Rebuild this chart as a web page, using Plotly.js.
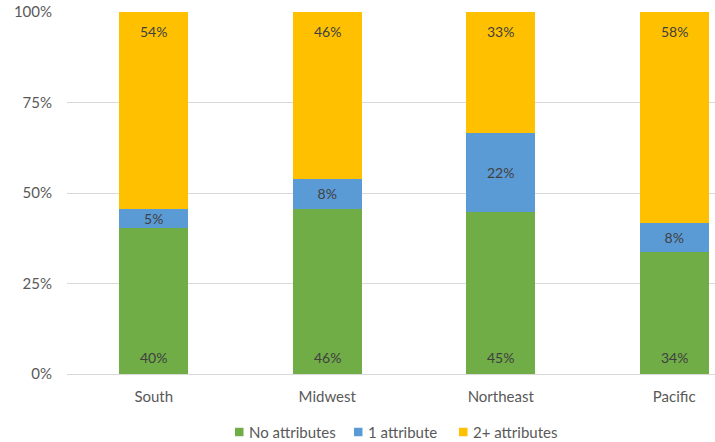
<!DOCTYPE html>
<html>
<head>
<meta charset="utf-8">
<script src="https://cdn.plot.ly/plotly-3.0.1.min.js"></script>
<style>
  html, body { margin: 0; padding: 0; background: #fff; }
  #chart { width: 715px; height: 442px; }
</style>
</head>
<body>
<div id="chart"></div>
<script>
// Share of respondents by number of attributes, per region (percent)
const regions = ["South", "Midwest", "Northeast", "Pacific"];
const noAttributes = [40.4, 45.7, 44.8, 33.6];
const oneAttribute = [5.2, 8.3, 21.8, 8.2];
const twoPlusAttributes = [54.4, 46.0, 33.4, 58.2];
const seriesNames = ["No attributes", "1 attribute", "2+ attributes"];
const seriesColors = ["#70AD47", "#5B9BD5", "#FFC000"];
const yTickValues = [0, 25, 50, 75, 100];

const font = "Lato, 'Open Sans', sans-serif";
const labelFont = { family: font, size: 14, color: "#404040" };
const axisFont = { family: font, size: 15, color: "#595959" };
const xs = regions.map((_, i) => i);
const pct = v => Math.round(v) + "%";

function series(name, values, color, withText) {
  const t = {
    type: "bar",
    name: name,
    x: xs,
    y: values,
    width: 0.398,
    marker: { color: color, line: { width: 0 } },
    hoverinfo: "skip",
    showlegend: false
  };
  if (withText) {
    t.text = values.map(pct);
    t.textposition = "inside";
    t.insidetextanchor = "middle";
    t.constraintext = "none";
    t.textangle = 0;
    t.insidetextfont = labelFont;
  } else {
    t.textposition = "none";
  }
  return t;
}

const data = [
  series(seriesNames[0], noAttributes, seriesColors[0], false),
  series(seriesNames[1], oneAttribute, seriesColors[1], true),
  series(seriesNames[2], twoPlusAttributes, seriesColors[2], false)
];

// Value labels pinned near the base and the top of each stack
const annotations = [];
xs.forEach(i => {
  annotations.push({
    x: i, y: 0, xref: "x", yref: "y",
    text: pct(noAttributes[i]), showarrow: false,
    yanchor: "middle", yshift: 17, font: labelFont
  });
  const top = noAttributes[i] + oneAttribute[i] + twoPlusAttributes[i];
  annotations.push({
    x: i, y: top, xref: "x", yref: "y",
    text: pct(twoPlusAttributes[i]), showarrow: false,
    yanchor: "middle", yshift: -19, font: labelFont
  });
});

// Legend row below the plot: small square swatch followed by its name
const plotLeft = 67, plotWidth = 648, plotBottom = 374, plotHeight = 362;
const px = v => (v - plotLeft) / plotWidth;
const legendY = (plotBottom - 432) / plotHeight;
const swatchLeft = [235, 354, 459];
const shapes = [];
seriesNames.forEach((name, k) => {
  shapes.push({
    type: "rect", xref: "paper", yref: "paper",
    x0: px(swatchLeft[k]), x1: px(swatchLeft[k] + 8.5),
    y0: legendY - 4.25 / plotHeight, y1: legendY + 4.25 / plotHeight,
    fillcolor: seriesColors[k], line: { width: 0 }
  });
  annotations.push({
    x: px(swatchLeft[k] + 12), y: legendY, xref: "paper", yref: "paper",
    text: name, showarrow: false, xanchor: "left", yanchor: "middle",
    font: axisFont
  });
});

const layout = {
  width: 715,
  height: 442,
  margin: { l: 67, r: 0, t: 12, b: 68, autoexpand: false },
  paper_bgcolor: "#fff",
  plot_bgcolor: "#fff",
  barmode: "stack",
  showlegend: false,
  font: axisFont,
  xaxis: {
    range: [-0.5, 3.235],
    tickvals: xs,
    ticktext: regions,
    showgrid: false,
    zeroline: false,
    showline: false,
    ticks: "",
    ticklabelstandoff: 12,
    tickfont: axisFont,
    fixedrange: true
  },
  yaxis: {
    range: [0, 100],
    tickvals: yTickValues,
    ticktext: yTickValues.map(v => v + "%"),
    showgrid: true,
    gridcolor: "#D9D9D9",
    gridwidth: 1,
    zeroline: true,
    zerolinecolor: "#D9D9D9",
    zerolinewidth: 1,
    showline: false,
    ticks: "",
    ticklabelstandoff: 14,
    tickfont: axisFont,
    fixedrange: true
  },
  shapes: shapes,
  annotations: annotations
};

Plotly.newPlot("chart", data, layout, { displayModeBar: false, staticPlot: true });
</script>
</body>
</html>
